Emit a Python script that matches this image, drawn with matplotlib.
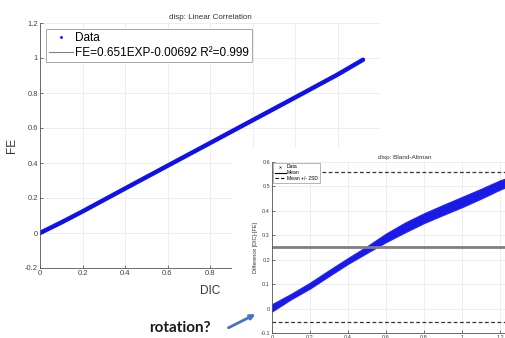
import matplotlib
matplotlib.use("Agg")
import matplotlib.pyplot as plt
from matplotlib.lines import Line2D
from matplotlib.patches import Rectangle, FancyArrowPatch

plt.rcParams["font.family"] = ["Liberation Sans", "DejaVu Sans"]

# Linear correlation data (read along the band)
dic = [0.0, 0.1, 0.2, 0.4, 0.6, 0.8, 1.0, 1.2, 1.4, 1.52]
fe = [0.0, 0.06, 0.123, 0.254, 0.384, 0.514, 0.644, 0.774, 0.905, 0.99]
fit_label = "FE=0.651EXP-0.00692 R²=0.999"

# Bland-Altman band (lower / upper edge of the point cloud)
ba_x = [0.0, 0.1, 0.2, 0.3, 0.4, 0.5, 0.6, 0.7, 0.8, 0.9, 1.0, 1.1, 1.2, 1.24]
ba_lo = [-0.012, 0.038, 0.082, 0.133, 0.183, 0.228, 0.272, 0.312, 0.350, 0.383, 0.415, 0.45, 0.487, 0.5]
ba_hi = [0.018, 0.06, 0.106, 0.157, 0.207, 0.255, 0.307, 0.352, 0.390, 0.424, 0.457, 0.49, 0.525, 0.535]
ba_mean = 0.251
ba_2sd = 0.308

main_xticks = [0, 0.2, 0.4, 0.6, 0.8, 1.0, 1.2, 1.4, 1.6]
main_yticks = [-0.2, 0, 0.2, 0.4, 0.6, 0.8, 1.0, 1.2]
ba_xticks = [0, 0.2, 0.4, 0.6, 0.8, 1.0, 1.2, 1.4]
ba_yticks = [-0.1, 0, 0.1, 0.2, 0.3, 0.4, 0.5, 0.6]

W, H = 505, 338
TXT = "#404040"
GRID = "#e8e8e8"


def fmt(v):
    return "0" if v == 0 else f"{v:g}"


def matlab_style(ax, xt, yt, fs):
    ax.set_xticks(xt)
    ax.set_yticks(yt)
    ax.set_xticklabels([fmt(v) for v in xt])
    ax.set_yticklabels([fmt(v) for v in yt])
    ax.tick_params(direction="in", length=2, width=0.5, labelsize=fs,
                   colors=TXT, pad=1.5)
    ax.spines["top"].set_visible(False)
    ax.spines["right"].set_visible(False)
    for s in ("left", "bottom"):
        ax.spines[s].set_color("#555555")
        ax.spines[s].set_linewidth(0.6)
    ax.grid(True, color=GRID, linewidth=0.5)
    ax.set_axisbelow(True)


fig = plt.figure(figsize=(W / 100, H / 100), dpi=100)

# main plot
ax = fig.add_axes([40 / W, 70 / H, 340 / W, 245 / H])
ax.plot(dic, fe, color="#1010e8", lw=3.2, solid_capstyle="round")
ax.set_xlim(0, 1.6)
ax.set_ylim(-0.2, 1.2)
matlab_style(ax, main_xticks, main_yticks, 5.5)
ax.set_title("disp: Linear Correlation", fontsize=5.8, color="#333333", pad=3)
ax.set_xlabel("DIC", fontsize=8.5, color="#333333", labelpad=6)
ax.set_ylabel("FE", fontsize=8.5, color="#333333", labelpad=5)

handles = [
    Line2D([], [], marker=".", ls="none", color="blue", markersize=2),
    Line2D([], [], color="#808080", lw=0.8),
]
leg = ax.legend(handles, ["Data", fit_label], loc="upper left",
                bbox_to_anchor=(6 / 340, 1 - 6 / 245), borderaxespad=0,
                fontsize=8.5, fancybox=False, edgecolor="#999999",
                framealpha=1, handlelength=2.0, handletextpad=0.2,
                labelspacing=0.3, borderpad=0.25)
leg.get_frame().set_linewidth(0.6)

# white cover behind the pasted inset
fig.add_artist(Rectangle((232 / W, 0), (W - 232) / W, 190 / H,
                         transform=fig.transFigure, facecolor="white",
                         edgecolor="none", zorder=1))

# Bland-Altman inset
ax2 = fig.add_axes([272 / W, 5 / H, 266 / W, 171 / H])
ax2.set_zorder(2)
ax2.fill_between(ba_x, ba_lo, ba_hi, color="#1a1ae6", lw=0.8, edgecolor="#2020ff")
ax2.axhline(ba_mean, color="#808080", lw=2)
ax2.axhline(ba_mean + ba_2sd, color="#333333", lw=0.9, ls=(0, (3, 2)))
ax2.axhline(ba_mean - ba_2sd, color="#333333", lw=0.9, ls=(0, (3, 2)))
ax2.set_xlim(0, 1.4)
ax2.set_ylim(-0.1, 0.6)
matlab_style(ax2, ba_xticks, ba_yticks, 4)
ax2.set_title("disp: Bland-Altman", fontsize=4.6, color="#333333", pad=2)
ax2.set_ylabel("Difference [DIC]-[FE]", fontsize=4, color="#333333", labelpad=1.5)

handles2 = [
    Line2D([], [], marker="x", ls="none", color="blue", markersize=1.5, mew=0.4),
    Line2D([], [], color="black", lw=0.8),
    Line2D([], [], color="black", lw=0.8, ls=(0, (3, 2))),
]
leg2 = ax2.legend(handles2, ["Data", "Mean", "Mean +/- 2SD"], loc="upper left",
                  bbox_to_anchor=(1 / 266, 1 - 1 / 171), borderaxespad=0,
                  fontsize=3.6, fancybox=False, edgecolor="#999999",
                  framealpha=1, handlelength=2.2, handletextpad=0.3,
                  labelspacing=0.15, borderpad=0.3)
leg2.get_frame().set_linewidth(0.5)

# annotation
fig.text(180 / W, 10 / H, "rotation?", ha="center", va="center",
         fontsize=11, fontweight="bold", family=["Lato", "DejaVu Sans"],
         color="#1a1a1a", zorder=5)
fig.add_artist(FancyArrowPatch((226 / W, 9 / H), (258 / W, 25 / H),
                               transform=fig.transFigure, arrowstyle="-|>",
                               mutation_scale=7, color="#4472C4", lw=2,
                               zorder=5))

fig.savefig("out.png", dpi=100)
